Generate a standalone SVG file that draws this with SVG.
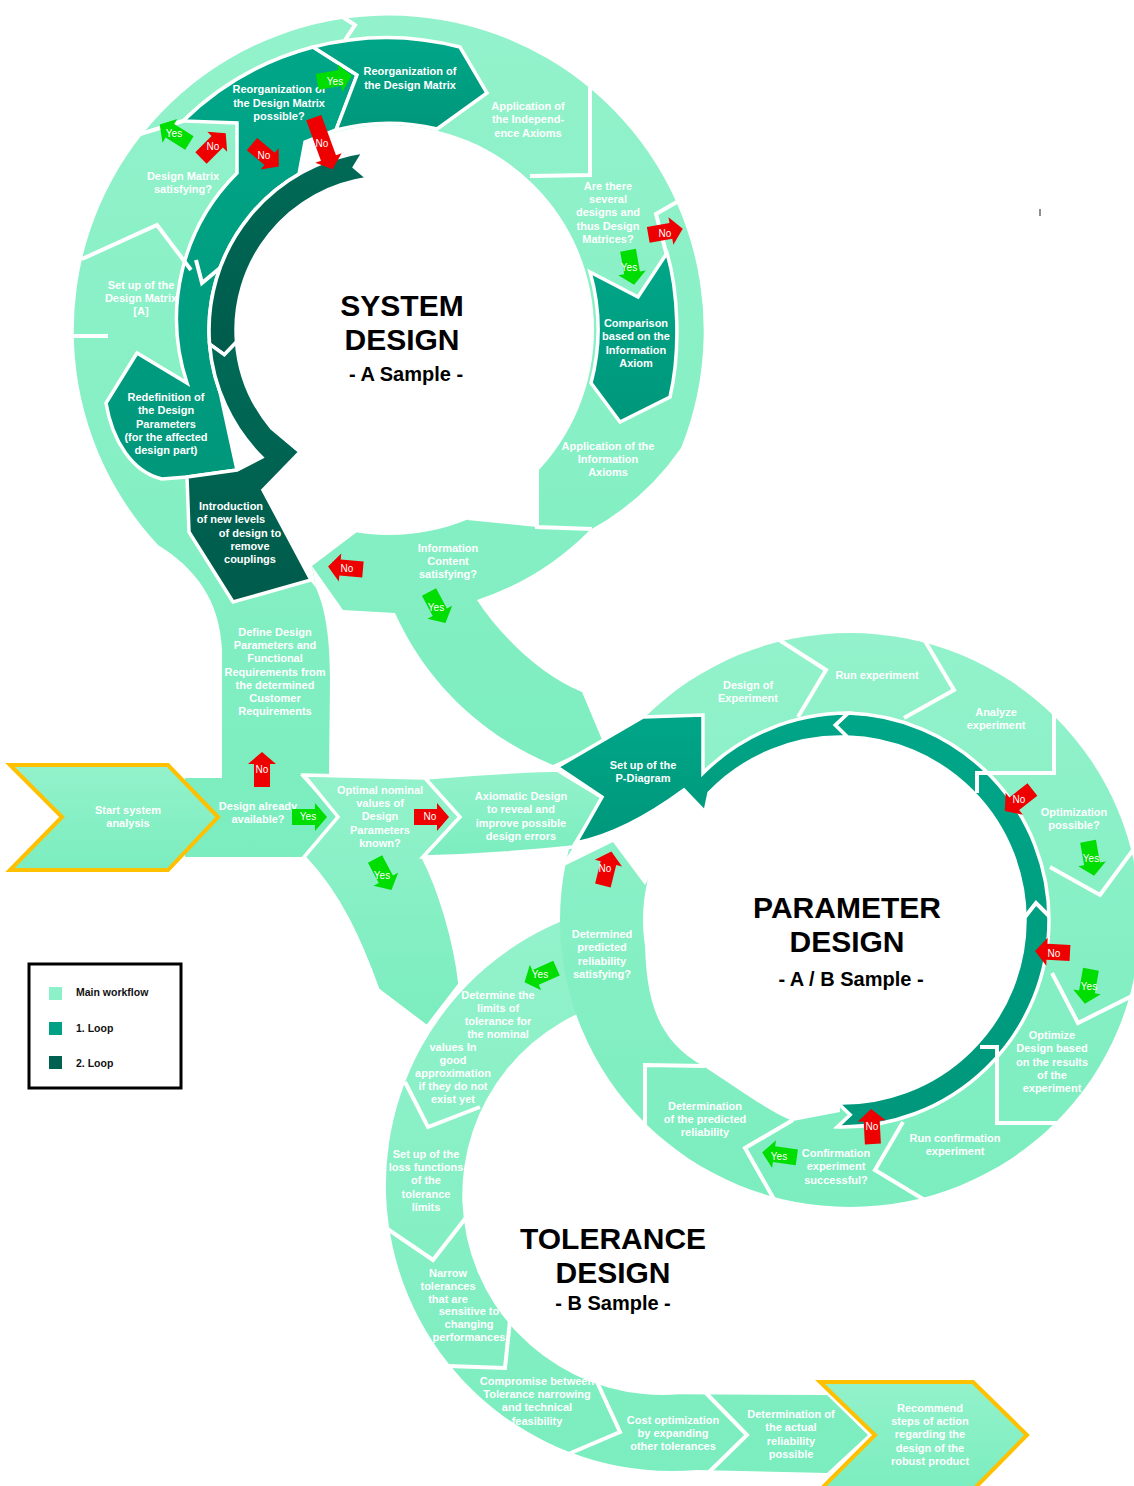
<svg xmlns="http://www.w3.org/2000/svg" width="1134" height="1486" viewBox="0 0 1134 1486">
<defs>
<linearGradient id="gl" x1="0" y1="0" x2="0" y2="1"><stop offset="0" stop-color="#93F2CB"/><stop offset="1" stop-color="#7BEDBF"/></linearGradient>
<linearGradient id="gm" x1="0" y1="0" x2="0" y2="1"><stop offset="0" stop-color="#00A688"/><stop offset="1" stop-color="#00977B"/></linearGradient>
<linearGradient id="gd" x1="0" y1="0" x2="0" y2="1"><stop offset="0" stop-color="#006A57"/><stop offset="1" stop-color="#005B4B"/></linearGradient>
<path id="ar" d="M -17,-8 L 6,-8 L 6,-14 L 18,0 L 6,14 L 6,8 L -17,8 Z"/>
<path id="arL" d="M -27,-8 L 16,-8 L 16,-14 L 28,0 L 16,14 L 16,8 L -27,8 Z"/>
<style>
.l{fill:url(#gl)}
.ls{fill:url(#gl);stroke:#fff;stroke-width:3.5;stroke-linejoin:miter}
.m{fill:url(#gm);stroke:#fff;stroke-width:3.5;stroke-linejoin:miter}
.d{fill:url(#gd);stroke:#fff;stroke-width:3.5;stroke-linejoin:miter}
.w{fill:#fff}
.sep{fill:none;stroke:#fff;stroke-width:4;stroke-linejoin:miter}
.y{fill:url(#gl);stroke:#FFC000;stroke-width:4;stroke-linejoin:miter}
.r{fill:#EE0000}
.g{fill:#00DD00}
text{font-family:"Liberation Sans",Arial,sans-serif}
.t{font-size:11px;font-weight:bold;fill:#fff;text-anchor:middle}
.a{font-size:10px;fill:#fff;text-anchor:middle}
.h1{font-size:30px;font-weight:bold;fill:#000;text-anchor:middle}
.h2{font-size:20px;font-weight:bold;fill:#000;text-anchor:middle}
.lg{font-size:10.5px;font-weight:bold;fill:#111}
</style>
</defs>
<rect width="1134" height="1486" fill="#fff"/>

<g id="bands">
<path id="td-band" class="l" d="M 574.2,916.2 A 286 286 0 0 0 696.9,1469.9 L 827,1473 L 868,1435 L 827,1395 L 679.4,1394.2 A 200 200 0 0 1 593.6,1007.1 Z"/>
<ellipse id="pd-band" class="l" cx="850" cy="920" rx="290" ry="287"/>
<ellipse class="w" cx="838" cy="920" rx="195" ry="183"/>
<path class="w" d="M 560,868 L 613,842 L 645,885 L 670,840 L 692,800 L 684,790 C 650,815 612,836 576,843 Z"/>
<path class="w" d="M 645,935 C 645,1000 657,1040 703,1066 C 740,1090 770,1112 793,1121 L 840,1112 L 840,1000 Z"/>
<path id="sd-band" class="l" d="M 185,857 L 185,778 L 222,778 L 222,650 C 220,600 195,568 158,545 A 315 315 0 1 1 681,448 Q 645,500 590,530 A 284 284 0 0 1 477,600 C 500,635 540,675 582,692 L 603,742 L 553,765 C 480,735 425,680 395,613 L 343,610 L 312,566 L 316,588 C 326,610 330,640 330,680 L 329,775 L 300,775 L 338,817 L 304,857 Z"/>
<circle class="w" cx="389" cy="330" r="205"/>
<path class="w" d="M 262,490 L 300,452 L 357,532 L 312,566 L 316,588 L 310,580 Z"/>
<path class="w" d="M 220,392 L 237,470 L 262,457 Z"/>
<path class="w" d="M 537,471 L 537,527 L 467,520 Z"/>
</g>

<g id="n-optimal">
<path class="ls" d="M 304,775 L 425,778 L 460,817 L 423,857 C 440,890 455,940 460,984 L 427,1027 L 378,990 C 360,940 340,895 304,857 L 338,817 Z"/>
<text class="t" x="380" y="794"><tspan x="380">Optimal nominal</tspan><tspan x="380" dy="13.2">values of</tspan><tspan x="380" dy="13.2">Design</tspan><tspan x="380" dy="13.2">Parameters</tspan><tspan x="380" dy="13.2">known?</tspan></text>
</g>
<g id="n-axiomatic">
<path class="ls" d="M 425,778 Q 490,772 557,770 L 603,798 L 573,847 Q 500,855 423,857 L 460,817 Z"/>
<text class="t" x="521" y="800"><tspan x="521">Axiomatic Design</tspan><tspan x="521" dy="13.4">to reveal and</tspan><tspan x="521" dy="13.4">improve possible</tspan><tspan x="521" dy="13.4">design errors</tspan></text>
</g>

<g id="loop1-sd">
<path class="m" d="M 237,173 L 237,123 L 183,121 A 293 293 0 0 1 313,47 L 357,75 L 336,130 L 305,142 L 299,174 A 180 180 0 0 0 220,392 L 237,470 L 187,477 L 162,479 C 132,472 112,440 106,403 L 137,353 L 187,383 A 205 205 0 0 1 237,173 Z"/>
</g>
<g id="n-reorg-dm">
<path class="m" d="M 313,47 A 292 292 0 0 1 460,47 L 487,93 L 437,129 A 207 207 0 0 0 336,130 L 357,75 Z"/>
<text class="t" x="410" y="75"><tspan x="410">Reorganization of</tspan><tspan x="410" dy="13.6">the Design Matrix</tspan></text>
</g>
<g id="n-comparison">
<path class="m" d="M 590,272 L 638,297 L 667,253 C 678,290 681,350 670,397 L 620,422 L 591,383 A 209 209 0 0 0 590,272 Z"/>
<text class="t" x="636" y="327"><tspan x="636">Comparison</tspan><tspan x="636" dy="13.4">based on the</tspan><tspan x="636" dy="13.4">Information</tspan><tspan x="636" dy="13.4">Axiom</tspan></text>
</g>
<g id="loop2-sd">
<path class="d" d="M 363.9,151.7 A 180 180 0 0 0 209.6,344.1 L 224.3,354.6 L 236.5,342.0 A 153 153 0 0 1 367.7,178.5 L 354.4,167.1 Z"/>
</g>
<g id="n-introduction">
<path class="d" d="M 209.6,344.1 L 224.3,354.6 L 236.5,342.0 A 153 153 0 0 0 271.8,428.3 L 300,452 L 263,490 L 311,580 L 233,602 L 189,532 L 187,477 L 237,470 L 261.7,457.3 A 180 180 0 0 1 209.6,344.1 Z"/>
<text class="t"><tspan x="231" y="510">Introduction</tspan><tspan x="231" y="523">of new levels</tspan><tspan x="250" y="537">of design to</tspan><tspan x="250" y="550">remove</tspan><tspan x="250" y="563">couplings</tspan></text>
</g>

<g id="loop1-pd">
<path class="m" d="M 848.1,713.1 L 835.2,725.1 L 847.4,737.1 A 183 183 0 0 1 1025,920 A 183 183 0 0 1 837.8,1103.0 L 850.2,1114.8 L 837.3,1126.9 A 207 207 0 0 0 1049,920 A 207 207 0 0 0 848.1,713.1 Z"/>
</g>
<g id="n-pdiagram">
<path class="m" d="M 557,767 L 643,717 L 703,715 L 703,773 A 207 207 0 0 1 848.1,713.1 L 835.2,725.1 L 847.4,737.1 A 183 183 0 0 0 709,793 L 705,812 L 684,790 C 650,815 612,836 576,843 L 602,797 Z"/>
<text class="t" x="643" y="769"><tspan x="643">Set up of the</tspan><tspan x="643" dy="13.4">P-Diagram</tspan></text>
</g>

<g id="separators">
<polyline class="sep" points="338,14 355,25 345,40"/>
<polyline class="sep" points="137,135 183,121"/>
<polyline class="sep" points="82,259 157,225 191,270"/>
<polyline class="sep" points="70,336 108,336"/>
<polyline class="sep" points="590,85 590,175 530,176"/>
<polyline class="sep" points="682,199 656,214 667,256"/>
<polyline class="sep" points="537,470 537,527 592,529"/>
<polyline class="sep" points="196,260 202,283 220,268"/>
<polyline class="sep" points="773,636 826,670 798,717"/>
<polyline class="sep" points="922,636 954,690 904,718"/>
<polyline class="sep" points="1054,705 1054,773 977,773 977,793"/>
<polyline class="sep" points="1050,867 1100,895 1136,846"/>
<polyline class="sep" points="1052,973 1078,1023 1136,994"/>
<polyline class="sep" points="980,1047 997,1047 997,1123 1066,1123"/>
<polyline class="sep" points="903,1122 875,1170 928,1202"/>
<polyline class="sep" points="793,1120 745,1148 775,1201"/>
<polyline class="sep" points="645,1128 645,1065 705,1066"/>
<polyline class="sep" points="1025,917 1036,903 1049,916"/>
<polyline class="sep" points="480,1107 428,1127 405,1082"/>
<polyline class="sep" points="468,1215 433,1260 386,1228"/>
<polyline class="sep" points="510,1320 505,1368 448,1366"/>
<polyline class="sep" points="597,1382 620,1432 566,1455"/>
<polyline class="sep" points="705,1392 747,1435 705,1476"/>
</g>

<g id="n-start">
<path class="y" d="M 10,765 L 168,765 L 218,817 L 168,870 L 10,870 L 62,817 Z"/>
<text class="t" x="128" y="814"><tspan x="128">Start system</tspan><tspan x="128" dy="13.2">analysis</tspan></text>
</g>
<g id="n-recommend">
<path class="y" d="M 820,1382 L 973,1382 L 1027,1435 L 973,1490 L 820,1490 L 875,1435 Z"/>
<text class="t" x="930" y="1412"><tspan x="930">Recommend</tspan><tspan x="930" dy="13.2">steps of action</tspan><tspan x="930" dy="13.2">regarding the</tspan><tspan x="930" dy="13.2">design of the</tspan><tspan x="930" dy="13.2">robust product</tspan></text>
</g>

<g id="n-design-available"><text class="t" x="258" y="810"><tspan x="258">Design already</tspan><tspan x="258" dy="13.2">available?</tspan></text></g>
<g id="n-define"><text class="t" x="275" y="636"><tspan x="275">Define Design</tspan><tspan x="275" dy="13.2">Parameters and</tspan><tspan x="275" dy="13.2">Functional</tspan><tspan x="275" dy="13.2">Requirements from</tspan><tspan x="275" dy="13.2">the determined</tspan><tspan x="275" dy="13.2">Customer</tspan><tspan x="275" dy="13.2">Requirements</tspan></text></g>
<g id="n-setup-dm"><text class="t" x="141" y="289"><tspan x="141">Set up of the</tspan><tspan x="141" dy="13.2">Design Matrix</tspan><tspan x="141" dy="13.2">[A]</tspan></text></g>
<g id="n-dm-satisfying"><text class="t" x="183" y="180"><tspan x="183">Design Matrix</tspan><tspan x="183" dy="13.2">satisfying?</tspan></text></g>
<g id="n-reorg-possible"><text class="t" x="279" y="93"><tspan x="279">Reorganization of</tspan><tspan x="279" dy="13.5">the Design Matrix</tspan><tspan x="279" dy="13.5">possible?</tspan></text></g>
<g id="n-redefinition"><text class="t" x="166" y="401"><tspan x="166">Redefinition of</tspan><tspan x="166" dy="13.3">the Design</tspan><tspan x="166" dy="13.3">Parameters</tspan><tspan x="166" dy="13.3">(for the affected</tspan><tspan x="166" dy="13.3">design part)</tspan></text></g>
<g id="n-app-indep"><text class="t" x="528" y="110"><tspan x="528">Application of</tspan><tspan x="528" dy="13.4">the Independ-</tspan><tspan x="528" dy="13.4">ence Axioms</tspan></text></g>
<g id="n-several"><text class="t" x="608" y="190"><tspan x="608">Are there</tspan><tspan x="608" dy="13.2">several</tspan><tspan x="608" dy="13.2">designs and</tspan><tspan x="608" dy="13.2">thus Design</tspan><tspan x="608" dy="13.2">Matrices?</tspan></text></g>
<g id="n-app-info"><text class="t" x="608" y="450"><tspan x="608">Application of the</tspan><tspan x="608" dy="13.2">Information</tspan><tspan x="608" dy="13.2">Axioms</tspan></text></g>
<g id="n-info-content"><text class="t" x="448" y="552"><tspan x="448">Information</tspan><tspan x="448" dy="13.2">Content</tspan><tspan x="448" dy="13.2">satisfying?</tspan></text></g>
<g id="t-system"><text class="h1" x="402" y="316">SYSTEM</text><text class="h1" x="402" y="350">DESIGN</text><text class="h2" x="406" y="381">- A Sample -</text></g>

<g id="n-doe"><text class="t" x="748" y="689"><tspan x="748">Design of</tspan><tspan x="748" dy="13.2">Experiment</tspan></text></g>
<g id="n-run"><text class="t" x="877" y="679">Run experiment</text></g>
<g id="n-analyze"><text class="t" x="996" y="716"><tspan x="996">Analyze</tspan><tspan x="996" dy="13.2">experiment</tspan></text></g>
<g id="n-opt-possible"><text class="t" x="1074" y="816"><tspan x="1074">Optimization</tspan><tspan x="1074" dy="13.2">possible?</tspan></text></g>
<g id="n-optimize"><text class="t" x="1052" y="1039"><tspan x="1052">Optimize</tspan><tspan x="1052" dy="13.3">Design based</tspan><tspan x="1052" dy="13.3">on the results</tspan><tspan x="1052" dy="13.3">of the</tspan><tspan x="1052" dy="13.3">experiment</tspan></text></g>
<g id="n-run-conf"><text class="t" x="955" y="1142"><tspan x="955">Run confirmation</tspan><tspan x="955" dy="13.2">experiment</tspan></text></g>
<g id="n-conf-ok"><text class="t" x="836" y="1157"><tspan x="836">Confirmation</tspan><tspan x="836" dy="13.4">experiment</tspan><tspan x="836" dy="13.4">successful?</tspan></text></g>
<g id="n-det-pred"><text class="t" x="705" y="1110"><tspan x="705">Determination</tspan><tspan x="705" dy="13.2">of the predicted</tspan><tspan x="705" dy="13.2">reliability</tspan></text></g>
<g id="n-det-sat"><text class="t" x="602" y="938"><tspan x="602">Determined</tspan><tspan x="602" dy="13.4">predicted</tspan><tspan x="602" dy="13.4">reliability</tspan><tspan x="602" dy="13.4">satisfying?</tspan></text></g>
<g id="t-param"><text class="h1" x="847" y="918">PARAMETER</text><text class="h1" x="847" y="952">DESIGN</text><text class="h2" x="851" y="986">- A / B Sample -</text></g>

<g id="n-limits"><text class="t"><tspan x="498" y="999">Determine the</tspan><tspan x="498" y="1012">limits of</tspan><tspan x="498" y="1025">tolerance for</tspan><tspan x="498" y="1038">the nominal</tspan><tspan x="453" y="1051">values In</tspan><tspan x="453" y="1064">good</tspan><tspan x="453" y="1077">approximation</tspan><tspan x="453" y="1090">if they do not</tspan><tspan x="453" y="1103">exist yet</tspan></text></g>
<g id="n-loss"><text class="t" x="426" y="1158"><tspan x="426">Set up of the</tspan><tspan x="426" dy="13.2">loss functions</tspan><tspan x="426" dy="13.2">of the</tspan><tspan x="426" dy="13.2">tolerance</tspan><tspan x="426" dy="13.2">limits</tspan></text></g>
<g id="n-narrow"><text class="t"><tspan x="448" y="1277">Narrow</tspan><tspan x="448" y="1290">tolerances</tspan><tspan x="448" y="1303">that are</tspan><tspan x="469" y="1315">sensitive to</tspan><tspan x="469" y="1328">changing</tspan><tspan x="469" y="1341">performances</tspan></text></g>
<g id="n-compromise"><text class="t" x="537" y="1385"><tspan x="537">Compromise between</tspan><tspan x="537" dy="13.2">Tolerance narrowing</tspan><tspan x="537" dy="13.2">and technical</tspan><tspan x="537" dy="13.2">feasibility</tspan></text></g>
<g id="n-cost"><text class="t" x="673" y="1424"><tspan x="673">Cost optimization</tspan><tspan x="673" dy="13.2">by expanding</tspan><tspan x="673" dy="13.2">other tolerances</tspan></text></g>
<g id="n-actual"><text class="t" x="791" y="1418"><tspan x="791">Determination of</tspan><tspan x="791" dy="13.4">the actual</tspan><tspan x="791" dy="13.4">reliability</tspan><tspan x="791" dy="13.4">possible</tspan></text></g>
<g id="t-tol"><text class="h1" x="613" y="1249">TOLERANCE</text><text class="h1" x="613" y="1283">DESIGN</text><text class="h2" x="613" y="1310">- B Sample -</text></g>

<g id="connectors">
<use href="#ar" class="r" transform="translate(262,770) rotate(-90)"/><text class="a" x="262" y="773">No</text>
<use href="#ar" class="g" transform="translate(309,817)"/><text class="a" x="308" y="820">Yes</text>
<use href="#ar" class="r" transform="translate(431,817)"/><text class="a" x="430" y="820">No</text>
<use href="#ar" class="g" transform="translate(383,874) rotate(62)"/><text class="a" x="382" y="879">Yes</text>
<use href="#ar" class="g" transform="translate(437,607) rotate(62)"/><text class="a" x="436" y="611">Yes</text>
<use href="#ar" class="r" transform="translate(346,568) rotate(185)"/><text class="a" x="347" y="572">No</text>
<use href="#ar" class="r" transform="translate(213,146) rotate(-45)"/><text class="a" x="213" y="150">No</text>
<use href="#ar" class="g" transform="translate(175,134) rotate(212)"/><text class="a" x="174" y="137">Yes</text>
<use href="#ar" class="r" transform="translate(265,155) rotate(40)"/><text class="a" x="264" y="159">No</text>
<use href="#arL" class="r" transform="translate(323,143) rotate(70)"/><text class="a" x="322" y="147">No</text>
<use href="#ar" class="g" transform="translate(334,79) rotate(-10)"/><text class="a" x="335" y="85">Yes</text>
<use href="#ar" class="r" transform="translate(665,232) rotate(-10)"/><text class="a" x="665" y="237">No</text>
<use href="#ar" class="g" transform="translate(631,267) rotate(80)"/><text class="a" x="629" y="271">Yes</text>
<use href="#ar" class="r" transform="translate(607,869) rotate(-76)"/><text class="a" x="605" y="872">No</text>
<use href="#ar" class="g" transform="translate(541,975) rotate(156)"/><text class="a" x="540" y="978">Yes</text>
<use href="#ar" class="r" transform="translate(1019,800) rotate(142)"/><text class="a" x="1019" y="803">No</text>
<use href="#ar" class="g" transform="translate(1091,858) rotate(80)"/><text class="a" x="1091" y="862">Yes</text>
<use href="#ar" class="r" transform="translate(1053,952) rotate(183)"/><text class="a" x="1054" y="957">No</text>
<use href="#ar" class="g" transform="translate(1088,986) rotate(100)"/><text class="a" x="1089" y="990">Yes</text>
<use href="#ar" class="r" transform="translate(872,1127) rotate(-93)"/><text class="a" x="872" y="1130">No</text>
<use href="#ar" class="g" transform="translate(780,1155) rotate(188)"/><text class="a" x="779" y="1160">Yes</text>
</g>

<g id="legend">
<rect x="29" y="964" width="152" height="124" fill="#fff" stroke="#000" stroke-width="3"/>
<rect x="49" y="987" width="13" height="13" fill="#8CF0C8"/>
<rect x="49" y="1022" width="13" height="13" fill="#00A085"/>
<rect x="49" y="1056" width="13" height="13" fill="#006150"/>
<text class="lg" x="76" y="996">Main workflow</text>
<text class="lg" x="76" y="1032">1. Loop</text>
<text class="lg" x="76" y="1067">2. Loop</text>
</g>
<line x1="1040" y1="209" x2="1040" y2="216" stroke="#444" stroke-width="1.2"/>
</svg>
